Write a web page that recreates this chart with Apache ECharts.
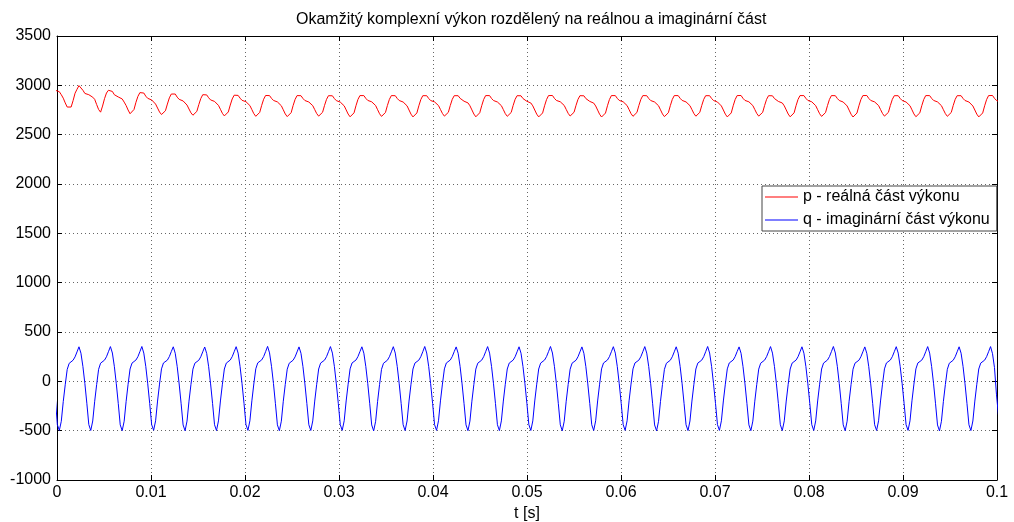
<!DOCTYPE html>
<html><head><meta charset="utf-8">
<script src="https://cdn.jsdelivr.net/npm/echarts@6/dist/echarts.min.js"></script>
<style>html,body{margin:0;padding:0;background:#fff}#c{width:1014px;height:522px}</style>
</head><body><div id="c"></div>
<script>
const titleText = 'Okamžitý komplexní výkon rozdělený na reálnou a imaginární část';
const xName = 't [s]';
const seriesNames = ['p - reálná část výkonu', 'q - imaginární část výkonu'];
const xTickLabels = ['0','0.01','0.02','0.03','0.04','0.05','0.06','0.07','0.08','0.09','0.1'];
const yTickLabels = ['-1000','-500','0','500','1000','1500','2000','2500','3000','3500'];
// sampling grid of the read values (s)
const tStart = -0.00017;
const tStep = 0.000209;
// p (red), 16 samples per cycle
const pValues = [
2950,2944,2935,2905,2870,2822,2780,2760,2780,2845,2920,2960,2997,2980,2950,2918,
2908,2905,2898,2880,2858,2805,2755,2728,2790,2865,2922,2950,2960,2938,2905,2888,
2882,2876,2862,2830,2795,2750,2712,2703,2755,2828,2888,2926,2940,2922,2890,2868,
2858,2852,2840,2810,2770,2730,2704,2696,2742,2810,2873,2912,2930,2912,2880,2858,
2848,2842,2830,2800,2760,2721,2697,2690,2736,2805,2866,2905,2922,2903,2874,2852,
2843,2837,2826,2797,2757,2716,2690,2683,2730,2800,2862,2900,2916,2898,2870,2848,
2840,2834,2823,2795,2754,2713,2686,2677,2726,2797,2859,2897,2913,2896,2868,2847,
2838,2832,2822,2793,2752,2710,2683,2674,2723,2795,2857,2896,2912,2895,2867,2846,
2837,2831,2821,2794,2754,2714,2688,2679,2727,2797,2858,2895,2910,2894,2866,2845,
2836,2830,2820,2792,2751,2709,2681,2671,2721,2794,2857,2896,2912,2896,2868,2847,
2838,2833,2823,2795,2753,2712,2685,2676,2725,2796,2858,2896,2911,2895,2867,2846,
2837,2831,2821,2792,2750,2708,2680,2670,2720,2793,2856,2895,2911,2895,2867,2846,
2838,2832,2822,2795,2755,2715,2688,2679,2726,2796,2858,2895,2910,2895,2868,2848,
2839,2833,2822,2793,2751,2709,2681,2672,2722,2794,2857,2896,2912,2896,2867,2846,
2837,2831,2821,2794,2754,2713,2686,2677,2725,2796,2858,2895,2909,2894,2866,2846,
2838,2832,2821,2792,2750,2708,2680,2670,2720,2793,2856,2896,2913,2897,2868,2847,
2838,2833,2823,2796,2756,2716,2689,2680,2727,2797,2858,2895,2909,2894,2866,2846,
2837,2831,2820,2791,2749,2707,2679,2669,2719,2793,2856,2896,2912,2896,2868,2847,
2839,2833,2823,2795,2754,2713,2686,2677,2725,2796,2858,2896,2911,2895,2867,2846,
2837,2831,2821,2793,2752,2710,2683,2673,2722,2794,2857,2896,2912,2896,2868,2847,
2838,2832,2822,2794,2754,2714,2687,2678,2726,2796,2858,2895,2910,2895,2867,2846,
2837,2831,2820,2791,2750,2708,2680,2670,2720,2793,2856,2896,2913,2897,2868,2847,
2838,2833,2823,2795,2755,2715,2688,2679,2726,2796,2858,2895,2909,2894,2866,2846,
2837,2831,2821,2792,2751,2709,2681,2671,2721,2794,2857,2896,2912,2896,2868,2847,
2839,2833,2822,2794,2753,2712,2685,2676,2724,2795,2858,2896,2911,2895,2867,2846,
2837,2831,2820,2791,2749,2707,2679,2669,2719,2793,2856,2896,2913,2897,2868,2847,
2838,2832,2822,2795,2755,2715,2688,2679,2726,2796,2858,2895,2910,2895,2867,2846,
2837,2831,2821,2793,2752,2710,2682,2672,2721,2794,2857,2896,2912,2896,2868,2847,
2838,2832,2822,2794,2753,2713,2686,2677,2725,2796,2858,2895,2910,2895,2867,2846,
2837,2831,2820,2791,2750,2708,2680,2670,2720,2793,2856,2896,2913,2897,2868,2847,
2838
];
// q (blue), 16 samples per cycle
const qValues = [
-180,-440,-497,-405,-205,-35,120,182,198,214,248,298,350,285,150,-22,
-222,-438,-498,-402,-202,-32,122,184,200,215,249,300,352,287,152,-24,
-225,-441,-500,-404,-203,-30,125,185,201,216,250,301,353,286,151,-25,
-224,-439,-496,-400,-200,-28,126,186,200,215,251,302,350,284,149,-27,
-227,-442,-501,-403,-201,-31,124,184,199,214,249,299,348,283,148,-26,
-225,-440,-499,-401,-199,-29,125,185,200,216,250,300,351,286,150,-24,
-223,-438,-497,-400,-198,-27,127,187,202,217,251,301,354,288,152,-23,
-226,-441,-500,-404,-202,-32,123,183,199,214,248,298,349,284,149,-26,
-225,-440,-498,-401,-200,-30,125,185,200,215,250,300,352,286,151,-25,
-224,-439,-497,-400,-199,-29,126,186,201,216,251,301,350,285,150,-24,
-227,-442,-502,-405,-203,-33,122,183,199,214,249,299,351,286,150,-25,
-225,-440,-499,-402,-200,-30,125,185,200,215,250,300,353,287,151,-24,
-224,-439,-497,-400,-198,-28,126,186,201,216,251,301,349,284,149,-26,
-226,-441,-500,-403,-201,-31,124,184,200,215,250,300,352,286,151,-25,
-225,-440,-499,-401,-200,-30,125,185,200,215,249,299,350,285,150,-25,
-224,-439,-498,-401,-199,-29,125,185,201,216,251,301,353,287,152,-23,
-226,-441,-501,-404,-202,-32,123,184,199,214,249,299,349,284,149,-26,
-225,-440,-498,-400,-199,-29,126,186,201,216,250,300,351,286,151,-24,
-224,-439,-497,-400,-198,-28,126,186,200,215,250,300,352,286,150,-25,
-227,-442,-502,-405,-203,-33,122,183,199,214,249,299,350,285,150,-25,
-225,-440,-499,-402,-200,-30,125,185,200,215,250,300,353,287,151,-24,
-224,-439,-497,-400,-199,-29,126,186,201,216,251,301,349,284,149,-26,
-226,-441,-500,-403,-201,-31,124,184,200,215,250,300,352,286,151,-25,
-225,-440,-499,-401,-200,-30,125,185,200,215,249,299,350,285,150,-25,
-224,-439,-498,-401,-199,-29,125,185,201,216,251,301,353,287,152,-23,
-226,-441,-501,-404,-202,-32,123,184,199,214,249,299,349,284,149,-26,
-225,-440,-498,-400,-199,-29,126,186,201,216,250,300,351,286,151,-24,
-224,-439,-497,-400,-198,-28,126,186,200,215,250,300,352,286,150,-25,
-227,-442,-502,-405,-203,-33,122,183,199,214,249,299,350,285,150,-25,
-225,-440,-499,-402,-200,-30,125,185,200,215,250,300,352,280,140,-130,
-340
];

const pData = pValues.map((v, i) => [tStart + i * tStep, v]);
const qData = qValues.map((v, i) => [tStart + i * tStep, v]);

const FONT = "'Liberation Sans', Arial, sans-serif";
const FS = 16;
const axisLineStyle = { color: '#000', width: 1 };
const gridLine = { show: true, lineStyle: { color: '#666', type: [1, 3], width: 1 } };
const xLabelFmt = v => xTickLabels[Math.round(v / 0.01)] ?? '';
const yLabelFmt = v => yTickLabels[Math.round((v + 1000) / 500)] ?? '';

const chart = echarts.init(document.getElementById('c'), null, { renderer: 'canvas' });
chart.setOption({
  animation: false,
  backgroundColor: '#fff',
  textStyle: { fontFamily: FONT },
  title: {
    text: titleText, left: 291, top: 7,
    textStyle: { fontFamily: FONT, fontSize: FS, fontWeight: 'normal', color: '#000' }
  },
  grid: { left: 57, right: 17, top: 36, bottom: 42, containLabel: false, outerBoundsMode: 'none' },
  legend: {
    orient: 'vertical', left: 762, top: 186,
    backgroundColor: '#fff', borderColor: '#444', borderWidth: 1,
    padding: [3, 7, 3, 3], itemGap: 7, itemWidth: 33, itemHeight: 1,
    icon: 'rect',
    textStyle: { fontFamily: FONT, fontSize: FS, color: '#000' },
    data: seriesNames
  },
  xAxis: [
    { type: 'value', position: 'bottom', min: 0, max: 0.1, interval: 0.01,
      name: xName, nameLocation: 'middle', nameGap: 25,
      nameTextStyle: { fontFamily: FONT, fontSize: FS, color: '#000' },
      axisLine: { show: true, onZero: false, lineStyle: axisLineStyle },
      axisTick: { show: true, inside: true, length: 5, lineStyle: axisLineStyle },
      axisLabel: { show: true, margin: 5, fontSize: FS, color: '#000', fontFamily: FONT, formatter: xLabelFmt },
      splitLine: gridLine },
    { type: 'value', position: 'top', min: 0, max: 0.1, interval: 0.01,
      axisLine: { show: true, onZero: false, lineStyle: axisLineStyle },
      axisTick: { show: true, inside: true, length: 5, lineStyle: axisLineStyle },
      axisLabel: { show: false }, splitLine: { show: false } }
  ],
  yAxis: [
    { type: 'value', position: 'left', min: -1000, max: 3500, interval: 500,
      axisLine: { show: true, onZero: false, lineStyle: axisLineStyle },
      axisTick: { show: true, inside: true, length: 5, lineStyle: axisLineStyle },
      axisLabel: { show: true, margin: 6, fontSize: FS, color: '#000', fontFamily: FONT, formatter: yLabelFmt },
      splitLine: gridLine },
    { type: 'value', position: 'right', min: -1000, max: 3500, interval: 500,
      axisLine: { show: true, onZero: false, lineStyle: axisLineStyle },
      axisTick: { show: true, inside: true, length: 5, lineStyle: axisLineStyle },
      axisLabel: { show: false }, splitLine: { show: false } }
  ],
  series: [
    { name: seriesNames[0], type: 'line', data: pData, showSymbol: false, symbol: 'none',
      clip: true, lineStyle: { color: '#ff0000', width: 1 }, itemStyle: { color: '#ff0000' } },
    { name: seriesNames[1], type: 'line', data: qData, showSymbol: false, symbol: 'none',
      clip: true, lineStyle: { color: '#0000ff', width: 1 }, itemStyle: { color: '#0000ff' } }
  ]
});
</script>
</body></html>
